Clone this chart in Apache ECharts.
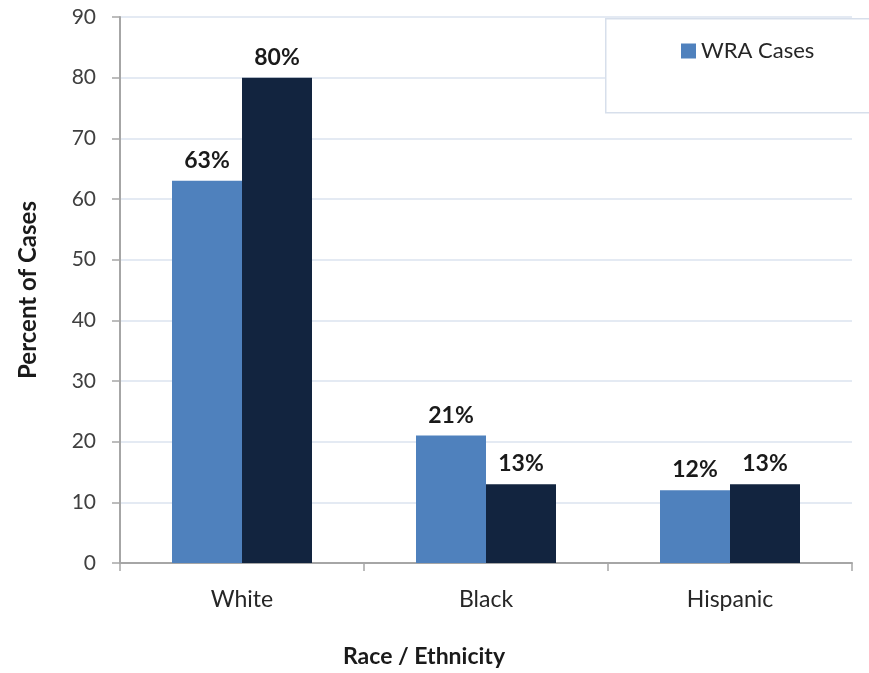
<!DOCTYPE html>
<html><head><meta charset="utf-8">
<script src="https://cdn.jsdelivr.net/npm/echarts@6/dist/echarts.min.js"></script>
<style>html,body{margin:0;padding:0;background:#fff}#c{width:869px;height:673px}</style>
</head><body><div id="c"></div>
<script>
const categories = ['White', 'Black', 'Hispanic'];
const wraCases = [63, 21, 12];
const comparison = [80, 13, 13];
const yTicks = [0, 10, 20, 30, 40, 50, 60, 70, 80, 90];

const FONT = 'Lato, "Open Sans", sans-serif';
const chart = echarts.init(document.getElementById('c'));
const labelStyle = {
  show: true, position: 'top', distance: 9,
  formatter: p => p.value + '%',
  fontFamily: FONT, fontWeight: 'bold', fontSize: 23, color: '#1a1a1a'
};
chart.setOption({
  animation: false,
  textStyle: { fontFamily: FONT },
  grid: { left: 120, right: 17, top: 17, bottom: 109, containLabel: false },
  graphic: [{
    type: 'rect', z: 10, left: 605, top: 18,
    shape: { width: 280, height: 94 },
    style: { fill: '#ffffff', stroke: '#d7dfeb', lineWidth: 1.5 }
  }],
  legend: {
    data: ['WRA Cases'], left: 676, top: 35, z: 20,
    itemWidth: 15, itemHeight: 15, icon: 'rect', itemGap: 6,
    textStyle: { fontFamily: FONT, fontSize: 22, color: '#262626' }
  },
  xAxis: {
    type: 'category', data: categories,
    name: 'Race / Ethnicity', nameLocation: 'middle', nameGap: 82,
    nameTextStyle: { fontFamily: FONT, fontWeight: 'bold', fontSize: 23, color: '#1a1a1a', padding: [0, 124, 0, 0] },
    axisLine: { lineStyle: { color: '#a6a6a6', width: 2 } },
    axisTick: { show: true, length: 8, inside: false, lineStyle: { color: '#a6a6a6', width: 1.5 } },
    axisLabel: { fontFamily: FONT, fontSize: 23, color: '#262626', margin: 25 }
  },
  yAxis: {
    type: 'value', min: yTicks[0], max: yTicks[yTicks.length - 1], interval: 10,
    name: 'Percent of Cases', nameLocation: 'middle', nameGap: 80, nameRotate: 90,
    nameTextStyle: { fontFamily: FONT, fontWeight: 'bold', fontSize: 24, color: '#1a1a1a' },
    axisLine: { show: true, lineStyle: { color: '#a6a6a6', width: 2 } },
    axisTick: { show: true, length: 8, lineStyle: { color: '#a6a6a6', width: 1.5 } },
    axisLabel: { fontFamily: FONT, fontSize: 21, color: '#404040', margin: 24 },
    splitLine: { lineStyle: { color: '#dbe3ef', width: 1.5 } }
  },
  series: [
    { name: 'WRA Cases', type: 'bar', data: wraCases, barWidth: 70, barGap: '0%',
      itemStyle: { color: '#4f81bd' }, label: labelStyle },
    { name: 'Comparison', type: 'bar', data: comparison, barWidth: 70, barGap: '0%',
      itemStyle: { color: '#12243f' }, label: labelStyle }
  ]
});
</script></body></html>
